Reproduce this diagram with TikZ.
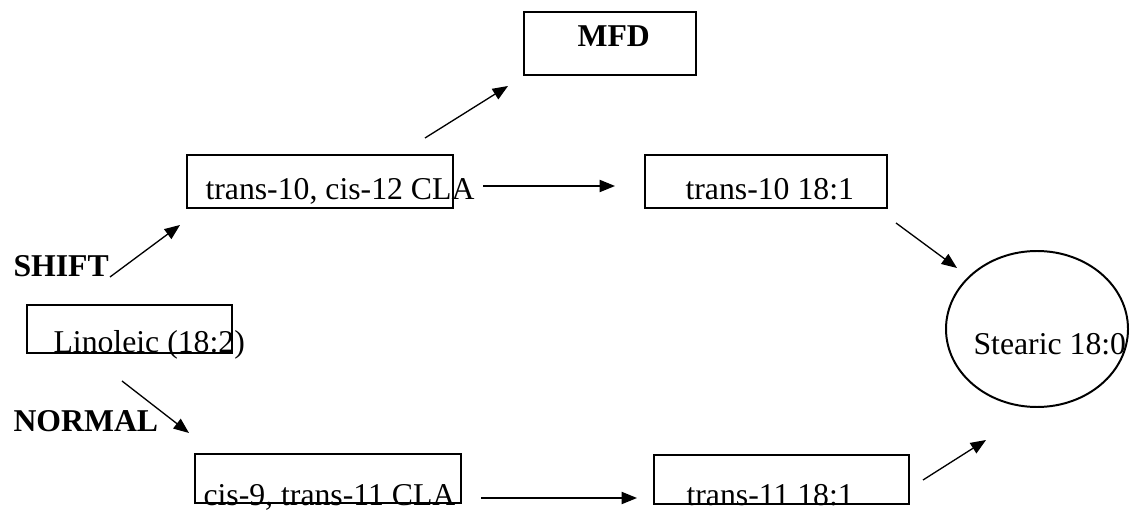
\documentclass[tikz,border=0pt]{standalone}
\usepackage{fontspec}
\setmainfont{Liberation Serif}
\usetikzlibrary{arrows.meta, positioning, shapes.geometric}

\newcommand{\pxu}{0.378pt}

\begin{document}
\begin{tikzpicture}[x=0.378pt, y=-0.378pt,
    box/.style={draw, line width=0.9pt, inner sep=0pt},
    txt/.style={anchor=base west, inner sep=0pt, font=\fontsize{12}{14}\selectfont},
    arr/.style={-{Triangle[length=5.8pt,width=4.6pt]}, line width=0.5pt}]
    \useasboundingbox (0,0) rectangle (1133,516);

    % Boxes and the ellipse
    \node[box, minimum width={172*\pxu}, minimum height={63*\pxu}] (MFD) at (610,43.5) {};
    \node[box, minimum width={266*\pxu}, minimum height={53*\pxu}] (CLAten) at (320,181.5) {};
    \node[box, minimum width={242*\pxu}, minimum height={53*\pxu}] (Tten) at (766,181.5) {};
    \node[box, minimum width={205*\pxu}, minimum height={48*\pxu}] (Lino) at (129.5,329) {};
    \node[box, minimum width={266*\pxu}, minimum height={49*\pxu}] (CLAnine) at (328,478.5) {};
    \node[box, minimum width={255*\pxu}, minimum height={49*\pxu}] (Televen) at (781.5,479.5) {};
    \node[draw, ellipse, line width=0.75pt, inner sep=0pt,
          minimum width={182*\pxu}, minimum height={156*\pxu}] (Stearic) at (1037,329) {};

    % Texts
    \node[txt] (MFDt) at (577,47) {\textbf{MFD}};
    \node[txt] (CLAtent) at (205,200) {trans-10, cis-12 CLA};
    \node[txt] (Ttent) at (685,200) {trans-10 18:1};
    \node[txt] (Linot) at (53,353) {Linoleic (18:2)};
    \node[txt] (CLAninet) at (203,505) {cis-9, trans-11 CLA};
    \node[txt] (Televent) at (686,505) {trans-11 18:1};
    \node[txt] (Stearict) at (973,355) {Stearic 18:0};
    \node[txt] (Shift) at (13,277) {\textbf{SHIFT}};
    \node[txt] (Normal) at (13,431) {\textbf{NORMAL}};

    % Arrow ends
    \coordinate (A1) at (425,138);  \coordinate (B1) at (508,86);
    \coordinate (A2) at (483,186);  \coordinate (B2) at (615,186);
    \coordinate (A3) at (896,223);  \coordinate (B3) at (957,268);
    \coordinate (A4) at (110,277);  \coordinate (B4) at (180,225);
    \coordinate (A5) at (122,381);  \coordinate (B5) at (189,433);
    \coordinate (A6) at (481,498);  \coordinate (B6) at (637,498);
    \coordinate (A7) at (923,480);  \coordinate (B7) at (986,440);

    % Arrows
    \foreach \i in {1,...,7} {
        \draw[arr] (A\i) -- (B\i);
    }
\end{tikzpicture}
\end{document}
